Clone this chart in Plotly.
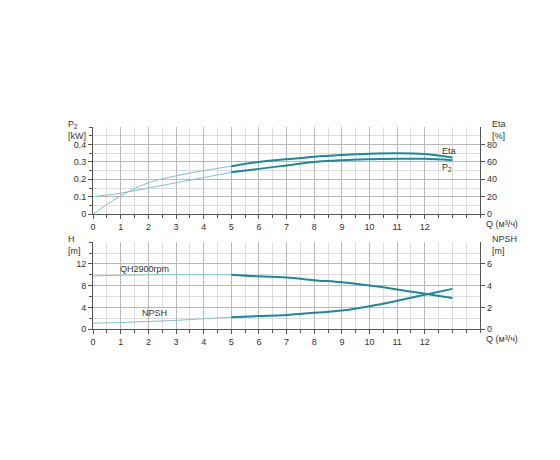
import plotly.graph_objects as go

q = [0, 1, 2, 3, 4, 5, 6, 7, 8, 9, 10, 11, 12, 13]
eta = [0, 21, 36, 44, 50, 55, 60, 63, 66, 68, 69.5, 70, 69, 65]
p2 = [0.1, 0.12, 0.15, 0.18, 0.21, 0.24, 0.26, 0.28, 0.30, 0.31, 0.315, 0.318, 0.318, 0.31]
head = [9.8, 9.9, 10.0, 10.0, 10.0, 10.0, 9.7, 9.5, 9.0, 8.6, 8.0, 7.3, 6.5, 5.7]
npsh = [0.55, 0.6, 0.7, 0.8, 0.95, 1.1, 1.2, 1.3, 1.5, 1.7, 2.1, 2.6, 3.15, 3.7]

col = '#1a8a96'
light = '#7fc1c8'
fig = go.Figure()

def add(x, y, xa, ya):
    # thin light part up to Q=5, thicker dark part after
    fig.add_trace(go.Scatter(x=x[:6], y=y[:6], mode='lines', line=dict(color=light, width=1, shape='spline'),
                             xaxis=xa, yaxis=ya, showlegend=False))
    fig.add_trace(go.Scatter(x=x[5:], y=y[5:], mode='lines', line=dict(color=col, width=2, shape='spline'),
                             xaxis=xa, yaxis=ya, showlegend=False))

add(q, p2, 'x', 'y')
add(q, eta, 'x', 'y2')
add(q, head, 'x2', 'y3')
add(q, npsh, 'x2', 'y4')

xd = [0.152, 0.843]
top = [0.552, 0.741]
bot = [0.302, 0.491]
grid = dict(showgrid=True, gridcolor='#b8b8b8', gridwidth=1, zeroline=False, showline=True, linecolor='#555',
            ticks='outside', ticklen=4, tickcolor='#555', tickfont=dict(size=9, color='#333'), automargin=False)
xax = dict(grid, range=[0, 14], tickvals=list(range(13)), domain=xd,
           minor=dict(dtick=0.5, showgrid=True, gridcolor='#dcdcdc', ticks='outside', ticklen=3))
fig.update_layout(
    width=560, height=460, margin=dict(l=0, r=0, t=0, b=0),
    plot_bgcolor='white', paper_bgcolor='white', font=dict(family='Liberation Sans'),
    xaxis=dict(xax, anchor='y'),
    xaxis2=dict(xax, anchor='y3'),
    yaxis=dict(grid, domain=top, range=[0, 0.5], tickvals=[0, 0.1, 0.2, 0.3, 0.4], ticktext=['0', '0.1', '0.2', '0.3', '0.4'],
               minor=dict(dtick=0.05, showgrid=True, gridcolor='#dcdcdc', ticks='outside', ticklen=3), anchor='x'),
    yaxis2=dict(grid, domain=top, range=[0, 100], tickvals=[0, 20, 40, 60, 80], overlaying='y', side='right',
                showgrid=False, anchor='x'),
    yaxis3=dict(grid, domain=bot, range=[0, 16], tickvals=[0, 4, 8, 12],
                minor=dict(dtick=2, showgrid=True, gridcolor='#dcdcdc', ticks='outside', ticklen=3), anchor='x2'),
    yaxis4=dict(grid, domain=bot, range=[0, 8], tickvals=[0, 2, 4, 6], overlaying='y3', side='right',
                showgrid=False, anchor='x2'),
)

ann = [
    (58, 122, 'P<sub>2</sub><br>[kW]'),
    (482, 122, 'Eta<br>[%]'),
    (58, 237, 'H<br>[m]'),
    (482, 237, 'NPSH<br>[m]'),
    (476, 216, 'Q (м³/ч)'),
    (476, 331, 'Q (м³/ч)'),
    (432, 143, 'Eta'),
    (432, 159, 'P<sub>2</sub>'),
    (110, 261, 'QH2900rpm'),
    (132, 305, 'NPSH'),
]
for x, y, t in ann:
    fig.add_annotation(x=x / 560, y=1 - y / 460, xref='paper', yref='paper', text=t, showarrow=False,
                       xanchor='left', yanchor='middle', align='left', font=dict(size=9, color='#333'))

fig.write_html("out.html")
